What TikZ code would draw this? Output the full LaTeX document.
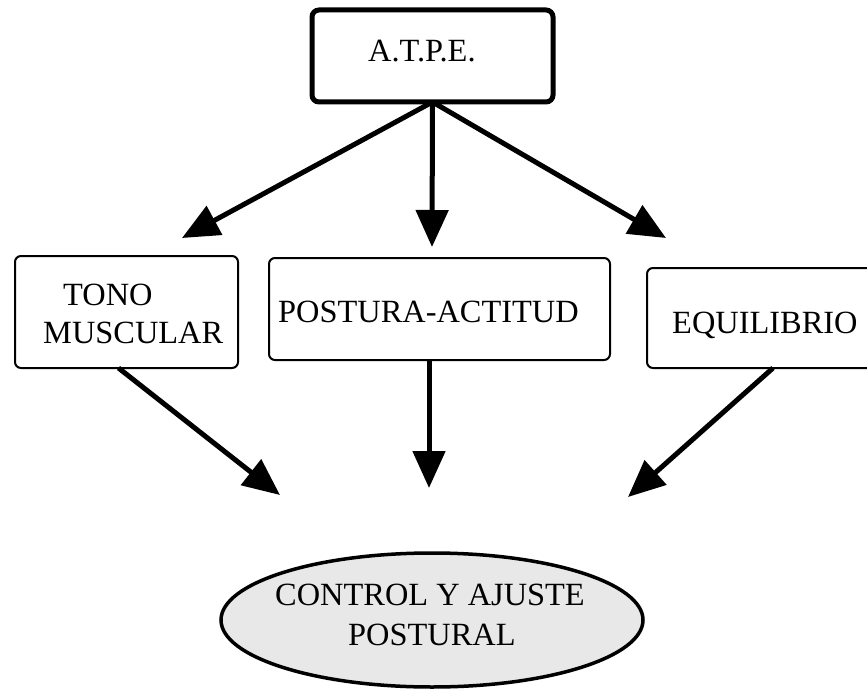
\documentclass[tikz,border=0pt]{standalone}
\usepackage{fontspec}
\setmainfont{Liberation Serif}
\usetikzlibrary{arrows.meta,shapes.geometric}
\begin{document}
\begin{tikzpicture}[x=1pt,y=-1pt,
  box/.style={draw, line width=2pt, rounded corners=6pt, inner sep=0pt, outer sep=0pt},
  mainbox/.style={box, line width=5pt, rounded corners=7pt},
  word/.style={inner sep=0pt, anchor=base west, font=\fontsize{32.4}{38}\selectfont},
  flow/.style={line width=5pt, -{Triangle[length=37pt,width=32pt]}}
]
\clip (0,0) rectangle (867,690);
\fill[white] (0,0) rectangle (867,690);

% boxes
\node[mainbox, minimum width=241pt, minimum height=92pt] (atpe) at (432.5,56) {};
\node[box, minimum width=223pt, minimum height=112pt] (tono) at (126.5,312) {};
\node[box, minimum width=341pt, minimum height=102pt] (post) at (439.5,309) {};
\node[box, minimum width=233pt, minimum height=100pt] (equi) at (763.5,318) {};
\node[draw, ellipse, line width=3.5pt, fill=black!9, inner sep=0pt,
      minimum width=422pt, minimum height=134pt] (ctrl) at (432,620) {};

% texts
\node[word] (atpe-t) at (368,62) {A.T.P.E.};
\node[word] (tono-t1) at (63,305) {TONO};
\node[word] (tono-t2) at (43,343) {MUSCULAR};
\node[word] (post-t) at (278,322) {POSTURA-ACTITUD};
\node[word] (equi-t) at (672,333) {EQUILIBRIO};
\node[word] (ctrl-t1) at (275,605) {CONTROL Y AJUSTE};
\node[word] (ctrl-t2) at (348,645) {POSTURAL};

% arrow tips
\coordinate (t1) at (182,238);
\coordinate (t2) at (432,247);
\coordinate (t3) at (666,238);
\coordinate (b1) at (280,495);
\coordinate (b2) at (429,488);
\coordinate (b3) at (628,497);

% connectors
\draw[flow] (atpe.south) -- (t1);
\draw[flow] (atpe.south) -- (t2);
\draw[flow] (atpe.south) -- (t3);
\draw[flow] ([xshift=-8pt]tono.south) -- (b1);
\draw[flow] ([xshift=-10.5pt]post.south) -- (b2);
\draw[flow] ([xshift=9.5pt]equi.south) -- (b3);
\end{tikzpicture}
\end{document}
